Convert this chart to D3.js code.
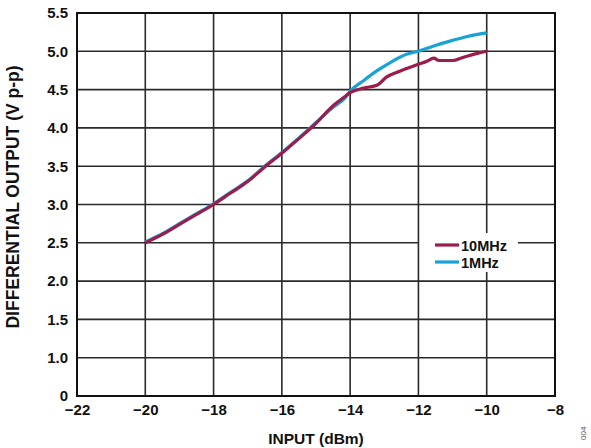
<!DOCTYPE html>
<html>
<head>
<meta charset="utf-8">
<script src="https://cdn.jsdelivr.net/npm/d3@7"></script>
<style>
  body { margin: 0; background: #fff; }
  text { font-family: "Liberation Sans", Arial, sans-serif; font-weight: bold; }
</style>
</head>
<body>
<svg id="chart" width="591" height="448"></svg>
<script>
// data
var xTicks = [-22, -20, -18, -16, -14, -12, -10, -8];
var xTickLabels = ["\u221222", "\u221220", "\u221218", "\u221216", "\u221214", "\u221212", "\u221210", "\u22128"];
var yTicks = [0.5, 1.0, 1.5, 2.0, 2.5, 3.0, 3.5, 4.0, 4.5, 5.0, 5.5];
var yTickLabels = ["0", "1.0", "1.5", "2.0", "2.5", "3.0", "3.5", "4.0", "4.5", "5.0", "5.5"];

var input10 = [-20, -19.5, -19, -18.5, -18, -17.5, -17, -16.5, -16, -15.5, -15, -14.5, -14.15, -14,
               -13.6, -13.2, -12.95, -12.55, -12, -11.75, -11.55, -11.4, -11, -10.7, -10.3, -10];
var out10 = [2.5, 2.61, 2.74, 2.87, 3.0, 3.15, 3.3, 3.49, 3.67, 3.86, 4.06, 4.29, 4.41, 4.46,
             4.52, 4.56, 4.66, 4.74, 4.83, 4.87, 4.91, 4.88, 4.88, 4.92, 4.97, 5.0];

var input1 = [-20, -19.5, -19, -18.5, -18, -17.5, -17, -16.5, -16, -15.5, -15, -14.5, -14.15, -14,
              -13.6, -13.2, -12.8, -12.35, -12, -11.55, -11.1, -10.6, -10];
var out1 = [2.51, 2.62, 2.75, 2.88, 3.01, 3.16, 3.31, 3.5, 3.68, 3.87, 4.07, 4.27, 4.39, 4.48,
            4.62, 4.75, 4.86, 4.96, 5.0, 5.07, 5.13, 5.19, 5.24];

var seriesNames = ["10MHz", "1MHz"];
var seriesColors = ["#9c1c4b", "#18a2d6"];

var svg = d3.select("#chart"),
    margin = {top: 13, right: 36, bottom: 52, left: 77},
    width = +svg.attr("width") - margin.left - margin.right,
    height = +svg.attr("height") - margin.top - margin.bottom;

var x = d3.scaleLinear().domain([-22, -8]).range([0, width]);
var y = d3.scaleLinear().domain([0.5, 5.5]).range([height, 0]);

var g = svg.append("g")
    .attr("transform", "translate(" + margin.left + "," + margin.top + ")");

// legend backing goes under the grid's vertical lines but over the horizontal ones
g.append("g").selectAll("line.hg")
    .data(yTicks.slice(1, -1))
    .enter().append("line")
    .attr("x1", 0).attr("x2", width)
    .attr("y1", function(d){ return y(d); }).attr("y2", function(d){ return y(d); })
    .attr("stroke", "#2a2a2a").attr("stroke-width", 1.6);

var lg = g.append("g").attr("transform", "translate(341,220)");
lg.append("rect").attr("x", 1).attr("y", 0).attr("width", 99).attr("height", 39).attr("fill", "#fff");

g.append("g").selectAll("line.vg")
    .data(xTicks.slice(1, -1))
    .enter().append("line")
    .attr("x1", function(d){ return x(d); }).attr("x2", function(d){ return x(d); })
    .attr("y1", 0).attr("y2", height)
    .attr("stroke", "#2a2a2a").attr("stroke-width", 1.6);

// the -10 gridline is hidden behind the legend too
g.append("rect").attr("x", x(-10) - 2).attr("y", 220).attr("width", 4).attr("height", 39).attr("fill", "#fff");

// axes (labels only, frame drawn separately)
var xAxis = d3.axisBottom(x).tickValues(xTicks).tickSize(0).tickPadding(8)
    .tickFormat(function(d, i){ return xTickLabels[i]; });
var yAxis = d3.axisLeft(y).tickValues(yTicks).tickSize(0).tickPadding(9)
    .tickFormat(function(d, i){ return yTickLabels[i]; });

var gx = g.append("g").attr("transform", "translate(0," + height + ")").call(xAxis);
var gy = g.append("g").call(yAxis);
[gx, gy].forEach(function(a){
  a.select(".domain").remove();
  a.selectAll("text").attr("font-size", 15).attr("fill", "#111")
    .style("font-family", "'Liberation Sans', Arial, sans-serif").style("font-weight", "bold");
});

// curves
var line = d3.line()
    .x(function(d){ return x(d[0]); })
    .y(function(d){ return y(d[1]); })
    .curve(d3.curveMonotoneX);

var d10 = input10.map(function(v, i){ return [v, out10[i]]; });
var d1 = input1.map(function(v, i){ return [v, out1[i]]; });

g.append("path").datum(d1).attr("d", line)
    .attr("fill", "none").attr("stroke", seriesColors[1]).attr("stroke-width", 3.2);
g.append("path").datum(d10).attr("d", line)
    .attr("fill", "none").attr("stroke", seriesColors[0]).attr("stroke-width", 3.2);

// legend entries
var le = g.append("g").attr("transform", "translate(341,220)");
seriesNames.forEach(function(n, i){
  le.append("line").attr("x1", 17).attr("x2", 41)
    .attr("y1", 12 + i * 17).attr("y2", 12 + i * 17)
    .attr("stroke", seriesColors[i]).attr("stroke-width", 3.2);
  le.append("text").attr("x", 43).attr("y", 18 + i * 17)
    .attr("font-size", 14.5).attr("fill", "#111").text(n);
});

// frame
g.append("rect").attr("width", width).attr("height", height)
    .attr("fill", "none").attr("stroke", "#111").attr("stroke-width", 2);

// titles
svg.append("text").attr("x", margin.left + width / 2).attr("y", 444)
    .attr("text-anchor", "middle").attr("font-size", 15.5).attr("fill", "#111")
    .text("INPUT (dBm)");
svg.append("text")
    .attr("transform", "translate(19,197) rotate(-90)")
    .attr("text-anchor", "middle").attr("font-size", 17.5).attr("fill", "#111")
    .text("DIFFERENTIAL OUTPUT (V p-p)");
svg.append("text")
    .attr("transform", "translate(586,440) rotate(-90)")
    .style("font-weight", "normal").attr("font-size", 8).attr("fill", "#555")
    .text("004");
</script>
</body>
</html>
